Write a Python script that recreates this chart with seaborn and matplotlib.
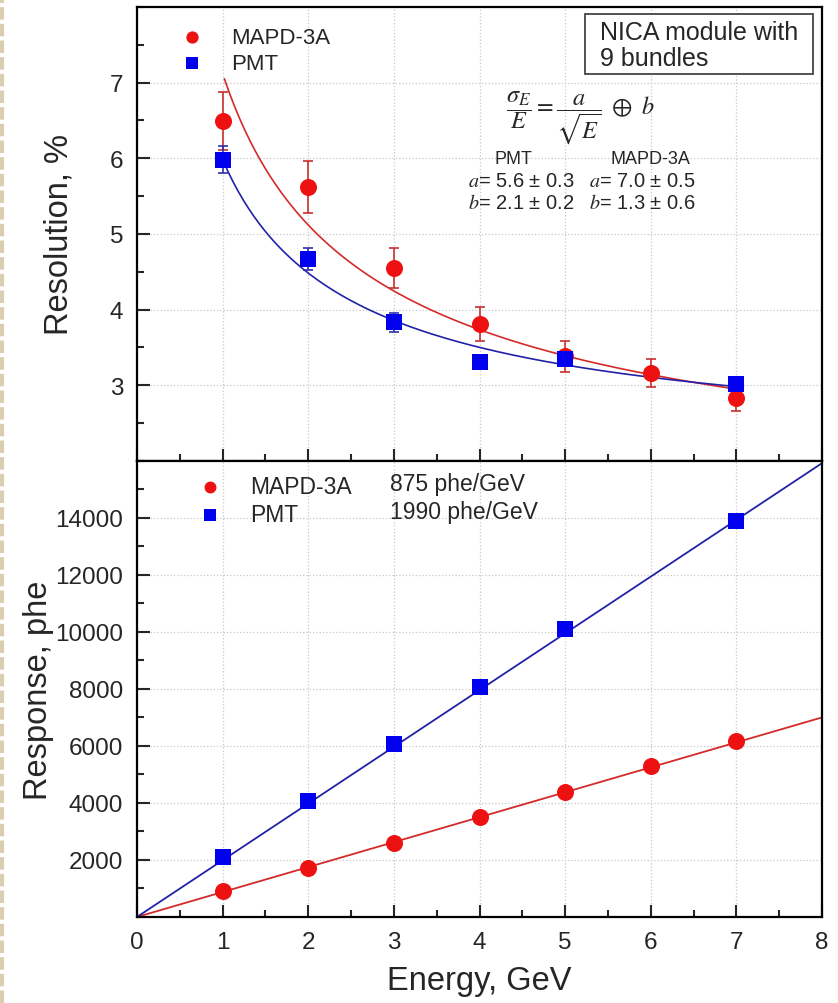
import numpy as np
import pandas as pd
import matplotlib
matplotlib.use("Agg")
import matplotlib.pyplot as plt
import seaborn as sns
from matplotlib.patches import Rectangle
from matplotlib.ticker import MultipleLocator

# ---------------- data ----------------
energy_mapd = [1, 2, 3, 4, 5, 6, 7]
res_mapd = [6.49, 5.62, 4.55, 3.81, 3.38, 3.16, 2.83]
res_mapd_err = [0.38, 0.34, 0.27, 0.23, 0.20, 0.19, 0.17]

energy_pmt = [1, 2, 3, 4, 5, 7]
res_pmt = [5.98, 4.67, 3.83, 3.31, 3.34, 3.01]
res_pmt_err = [0.18, 0.15, 0.12, 0.08, 0.06, 0.04]

resp_mapd = [916, 1734, 2601, 3504, 4371, 5299, 6178]
resp_pmt = [2112, 4066, 6081, 8059, 10085, 13883]

# fit parameters shown on the chart
fit_a_pmt, fit_b_pmt = 5.6, 2.1
fit_a_mapd, fit_b_mapd = 7.0, 1.3
slope_mapd, slope_pmt = 875, 1990

x_ticks = [0, 1, 2, 3, 4, 5, 6, 7, 8]
res_ticks = [3, 4, 5, 6, 7]
resp_ticks = [2000, 4000, 6000, 8000, 10000, 12000, 14000]

# ---------------- style ----------------
sns.set_style("ticks")
plt.rcParams['font.family'] = ['Liberation Sans', 'DejaVu Sans']
plt.rcParams['mathtext.fontset'] = 'stix'

RED = '#ee1111'
BLUE = '#0000ee'
RED_LINE = '#d42a2a'
BLUE_LINE = '#2222a8'

fig = plt.figure(figsize=(8.38, 10.04), dpi=100)
fig.patch.set_facecolor('white')
ax1 = fig.add_axes([0.1635, 0.540, 0.8175, 0.452])
ax2 = fig.add_axes([0.1635, 0.0857, 0.8175, 0.4543], sharex=ax1)

# left cream edge
fig.add_artist(plt.Line2D([0.002, 0.002], [0, 1], transform=fig.transFigure,
                          color='#d9ceb0', lw=3, ls=(0, (3, 1))))

for ax in (ax1, ax2):
    ax.set_xlim(0, 8)
    ax.grid(True, which='major', color='#c8c8c8', ls=':', lw=0.9)
    ax.set_axisbelow(True)
    for s in ax.spines.values():
        s.set_linewidth(1.6)
        s.set_color('black')
    ax.tick_params(axis='y', which='major', direction='in', length=9, width=1.5,
                   labelsize=17.5, right=False, pad=10)
    ax.tick_params(axis='x', which='major', direction='in', length=9, width=1.5,
                   labelsize=17.5, top=False, pad=10)
    ax.tick_params(which='minor', direction='in', length=5, width=1.5,
                   top=False, right=False)
    ax.xaxis.set_major_locator(MultipleLocator(1))
    ax.xaxis.set_minor_locator(MultipleLocator(0.5))

# ---------------- top panel ----------------
ax1.set_ylim(2, 8)
ax1.set_yticks(res_ticks)
ax1.yaxis.set_minor_locator(MultipleLocator(0.5))
ax1.tick_params(labelbottom=False)

# white patch behind the formula
ax1.add_patch(Rectangle((3.88, 4.85), 2.82, 2.25, facecolor='white',
                        edgecolor='none', zorder=0.5))

E_mapd = np.linspace(1.02, 7, 200)
E_pmt = np.linspace(1.0, 7, 200)
fit_mapd = pd.DataFrame({'E': E_mapd,
                         'R': np.sqrt(fit_a_mapd**2 / E_mapd + fit_b_mapd**2)})
fit_pmt = pd.DataFrame({'E': E_pmt,
                        'R': np.sqrt(fit_a_pmt**2 / E_pmt + fit_b_pmt**2)})
sns.lineplot(data=fit_mapd, x='E', y='R', ax=ax1, color=RED_LINE, lw=1.2,
             zorder=2, legend=False)
sns.lineplot(data=fit_pmt, x='E', y='R', ax=ax1, color=BLUE_LINE, lw=1.2,
             zorder=2, legend=False)

ax1.errorbar(energy_mapd, res_mapd, yerr=res_mapd_err, fmt='none',
             ecolor='#c83030', elinewidth=1.2, capsize=3.5, capthick=1.2, zorder=3)
ax1.errorbar(energy_pmt, res_pmt, yerr=res_pmt_err, fmt='none',
             ecolor='#3030b0', elinewidth=1.2, capsize=3.5, capthick=1.2, zorder=3)

df_mapd = pd.DataFrame({'E': energy_mapd, 'R': res_mapd})
df_pmt = pd.DataFrame({'E': energy_pmt, 'R': res_pmt})
sns.scatterplot(data=df_mapd, x='E', y='R', ax=ax1, marker='o', s=150,
                color=RED, edgecolor=RED, linewidth=0, zorder=4, label='MAPD-3A')
sns.scatterplot(data=df_pmt, x='E', y='R', ax=ax1, marker='s', s=130,
                color=BLUE, edgecolor=BLUE, linewidth=0, zorder=4, label='PMT')
ax1.legend(loc='upper left', frameon=False, fontsize=16,
           markerscale=0.72, handletextpad=0.75, borderaxespad=0.3,
           bbox_to_anchor=(0.025, 0.991), labelspacing=0.25)

ax1.set_xlabel('')
ax1.set_ylabel('Resolution, %', fontsize=23.5, labelpad=25)

# NICA box
ax1.add_patch(Rectangle((0.654, 0.852), 0.333, 0.1326, transform=ax1.transAxes,
                        facecolor='white', edgecolor='#444444', lw=1.3, zorder=5))
ax1.text(0.676, 0.916, 'NICA module with\n9 bundles', transform=ax1.transAxes,
         ha='left', va='center', fontsize=18, linespacing=1.12, zorder=6)

ax1.text(5.18, 6.55, r'$\dfrac{\sigma_E}{E} = \dfrac{a}{\sqrt{E}}\ \oplus\ b$',
         ha='center', va='center', fontsize=17.5, zorder=5)
ax1.text(4.39, 6.0, 'PMT', ha='center', va='center', fontsize=13, zorder=5)
ax1.text(5.99, 6.0, 'MAPD-3A', ha='center', va='center', fontsize=13, zorder=5)
ax1.text(3.86, 5.70, r'$a$' + '= 5.6 ± 0.3', ha='left', va='center',
         fontsize=14.5, zorder=5)
ax1.text(3.86, 5.42, r'$b$' + '= 2.1 ± 0.2', ha='left', va='center',
         fontsize=14.5, zorder=5)
ax1.text(5.28, 5.70, r'$a$' + '= 7.0 ± 0.5', ha='left', va='center',
         fontsize=14.5, zorder=5)
ax1.text(5.28, 5.42, r'$b$' + '= 1.3 ± 0.6', ha='left', va='center',
         fontsize=14.5, zorder=5)

# ---------------- bottom panel ----------------
ax2.set_ylim(0, 16000)
ax2.set_yticks(resp_ticks)
ax2.yaxis.set_minor_locator(MultipleLocator(1000))
ax2.set_xticks(x_ticks)

lin_E = [0, 8]
sns.lineplot(x=lin_E, y=[slope_mapd * e for e in lin_E], ax=ax2,
             color=RED_LINE, lw=1.3, zorder=2)
sns.lineplot(x=lin_E, y=[slope_pmt * e for e in lin_E], ax=ax2,
             color=BLUE_LINE, lw=1.3, zorder=2)

df2_mapd = pd.DataFrame({'E': energy_mapd, 'Y': resp_mapd})
df2_pmt = pd.DataFrame({'E': energy_pmt, 'Y': resp_pmt})
sns.scatterplot(data=df2_mapd, x='E', y='Y', ax=ax2, marker='o', s=150,
                color=RED, edgecolor=RED, linewidth=0, zorder=4, label='MAPD-3A')
sns.scatterplot(data=df2_pmt, x='E', y='Y', ax=ax2, marker='s', s=130,
                color=BLUE, edgecolor=BLUE, linewidth=0, zorder=4, label='PMT')
ax2.legend(loc='upper left', frameon=False, fontsize=16.5, markerscale=0.7,
           handletextpad=0.75, borderaxespad=0.3, bbox_to_anchor=(0.049, 1.004),
           labelspacing=0.2)
ax2.text(2.96, 15190, f'{slope_mapd} phe/GeV', ha='left', va='center', fontsize=16.5)
ax2.text(2.96, 14210, f'{slope_pmt} phe/GeV', ha='left', va='center', fontsize=16.5)

ax2.set_xlabel('Energy, GeV', fontsize=23.5, labelpad=9)
ax2.set_ylabel('Response, phe', fontsize=23.5, labelpad=1)

fig.savefig('out.png', dpi=100, facecolor='white')
